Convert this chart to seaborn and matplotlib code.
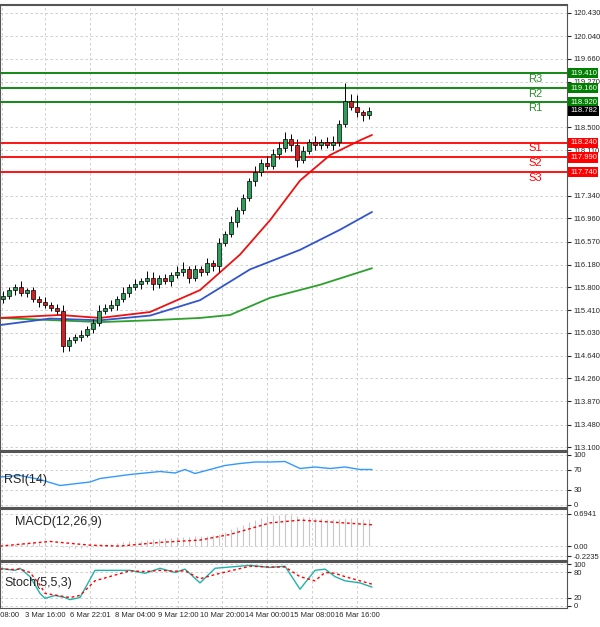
import numpy as np
import pandas as pd
import seaborn as sns
import matplotlib.pyplot as plt

# candle closes (open = previous close)
closes = [115.65, 115.75, 115.80, 115.70, 115.75, 115.60, 115.55, 115.50, 115.45, 115.40,
          114.80, 114.90, 114.95, 115.00, 115.10, 115.20, 115.40, 115.45, 115.50, 115.60,
          115.70, 115.80, 115.85, 115.90, 115.95, 115.85, 115.95, 115.90, 116.00, 116.05,
          116.10, 115.95, 116.10, 116.05, 116.20, 116.15, 116.55, 116.70, 116.90, 117.10,
          117.30, 117.60, 117.75, 117.90, 117.85, 118.05, 118.15, 118.30, 118.20, 117.95,
          118.10, 118.25, 118.20, 118.25, 118.20, 118.25, 118.55, 118.95, 118.85, 118.75,
          118.70, 118.782]
first_open = 115.60
upper_wick = [0.08, 0.05, 0.06, 0.10, 0.04, 0.06, 0.05, 0.08, 0.05, 0.06,
              0.10, 0.05, 0.06, 0.08, 0.05, 0.06, 0.10, 0.06, 0.08, 0.05,
              0.10, 0.06, 0.08, 0.05, 0.12, 0.10, 0.06, 0.08, 0.05, 0.10,
              0.12, 0.06, 0.08, 0.05, 0.10, 0.06, 0.08, 0.05, 0.10, 0.06,
              0.08, 0.05, 0.10, 0.06, 0.12, 0.08, 0.10, 0.12, 0.08, 0.10,
              0.08, 0.05, 0.10, 0.06, 0.08, 0.10, 0.08, 0.30, 0.12, 0.20,
              0.05, 0.06]
lower_wick = [0.06, 0.05, 0.08, 0.05, 0.06, 0.05, 0.08, 0.05, 0.06, 0.05,
              0.10, 0.08, 0.05, 0.06, 0.05, 0.08, 0.05, 0.06, 0.05, 0.08,
              0.05, 0.06, 0.05, 0.08, 0.05, 0.10, 0.06, 0.05, 0.08, 0.05,
              0.06, 0.08, 0.05, 0.06, 0.05, 0.08, 0.10, 0.06, 0.05, 0.08,
              0.06, 0.05, 0.10, 0.08, 0.06, 0.05, 0.08, 0.06, 0.10, 0.12,
              0.06, 0.05, 0.08, 0.06, 0.05, 0.08, 0.06, 0.05, 0.06, 0.08,
              0.10, 0.06]

# moving averages sampled at pixel positions
ma_px = [0, 60, 100, 150, 200, 240, 270, 300, 330, 360, 372]
ma_red = [115.28, 115.33, 115.28, 115.38, 115.75, 116.35, 116.93, 117.60, 118.03, 118.28, 118.37]
mb_px = [0, 50, 100, 150, 200, 250, 300, 340, 372]
ma_blue = [115.16, 115.27, 115.24, 115.32, 115.58, 116.10, 116.43, 116.77, 117.07]
mg_px = [0, 100, 150, 200, 230, 270, 320, 372]
ma_green = [115.28, 115.21, 115.24, 115.28, 115.33, 115.62, 115.84, 116.12]

levels = {"R3": 119.41, "R2": 119.16, "R1": 118.92, "S1": 118.24, "S2": 117.99, "S3": 117.74}
price_ticks = [120.430, 120.040, 119.660, 119.270, 118.500, 118.110, 117.340, 116.960, 116.570,
               116.180, 115.800, 115.410, 115.030, 114.640, 114.260, 113.870, 113.480, 113.100]

rsi_px = [0, 20, 40, 60, 90, 100, 130, 160, 175, 185, 195, 210, 225, 240, 255, 270, 285, 300, 315, 330, 345, 360, 372]
rsi = [55, 58, 50, 38, 45, 52, 60, 66, 63, 70, 62, 70, 78, 82, 85, 85, 86, 72, 75, 72, 75, 70, 70]

macd = [0.02, 0.03, 0.05, 0.06, 0.07, 0.08, 0.07, 0.06, 0.05, 0.03,
        -0.02, -0.04, -0.05, -0.04, -0.03, -0.01, 0.01, 0.03, 0.05, 0.06,
        0.08, 0.10, 0.11, 0.12, 0.14, 0.15, 0.16, 0.17, 0.18, 0.19,
        0.20, 0.20, 0.21, 0.21, 0.22, 0.23, 0.27, 0.31, 0.36, 0.41,
        0.46, 0.52, 0.57, 0.61, 0.64, 0.66, 0.68, 0.69, 0.68, 0.65,
        0.63, 0.62, 0.61, 0.60, 0.59, 0.58, 0.59, 0.61, 0.61, 0.60,
        0.59, 0.59]
sig_px = [0, 50, 90, 120, 160, 200, 230, 270, 300, 330, 372]
macd_sig = [0.0, 0.10, 0.02, 0.0, 0.08, 0.13, 0.25, 0.50, 0.56, 0.52, 0.46]

st_px = [0, 15, 20, 30, 40, 45, 55, 65, 70, 80, 95, 130, 145, 160, 175, 185, 200, 215, 250, 270, 285, 300, 315, 325, 335, 345, 360, 372]
st_main = [90, 85, 90, 70, 30, 18, 25, 20, 15, 20, 85, 85, 78, 90, 80, 88, 55, 90, 97, 92, 95, 40, 85, 88, 70, 60, 55, 45]
st_sig = [88, 87, 88, 80, 50, 30, 26, 22, 20, 25, 60, 84, 82, 85, 83, 84, 65, 75, 95, 93, 93, 70, 60, 80, 78, 70, 60, 52]

date_labels = ["Mar 08:00", "3 Mar 16:00", "6 Mar 22:01", "8 Mar 04:00", "9 Mar 12:00",
               "10 Mar 20:00", "14 Mar 00:00", "15 Mar 08:00", "16 Mar 16:00"]
date_px = [2, 45, 90, 135, 178, 222, 267, 312, 357]

CW = 6.0  # pixels per candle
GREEN = "#008000"
RED = "#ff0000"

sns.set_style("white")
plt.rcParams["font.family"] = "Liberation Sans"
fig = plt.figure(figsize=(6, 6.27), dpi=100)
H = 627.0
def rect(top, bot):
    return [0.0, 1 - bot / H, 567 / 600, (bot - top) / H]
ax = fig.add_axes(rect(5, 450))
ax_rsi = fig.add_axes(rect(452, 507))
ax_macd = fig.add_axes(rect(509, 560))
ax_st = fig.add_axes(rect(562, 608))
axes = [ax, ax_rsi, ax_macd, ax_st]

for a in axes:
    a.set_xlim(0, 567)
    a.yaxis.tick_right()
    a.tick_params(axis="y", labelsize=5.5, length=3, pad=1.5)
    a.tick_params(axis="x", length=0, pad=3)
    a.set_xticks(date_px)
    a.grid(True, color="#c8c8c8", linestyle=(0, (3, 3)), linewidth=0.6)
    for s in a.spines.values():
        s.set_color("#555555")
        s.set_linewidth(0.8)
    a.spines["top"].set_linewidth(1.5)
    if a is not ax_st:
        a.set_xticklabels([])
ax_st.set_xticklabels(date_labels, fontsize=5.5)

# candles
opens = [first_open] + closes[:-1]
cdf = pd.DataFrame({"x": [i * CW + 3 for i in range(len(closes))], "open": opens, "close": closes})
cdf["high"] = cdf[["open", "close"]].max(axis=1) + upper_wick
cdf["low"] = cdf[["open", "close"]].min(axis=1) - lower_wick
for _, r in cdf.iterrows():
    up = r.close >= r.open
    ax.vlines(r.x, r.low, r.high, color="black", linewidth=0.7, zorder=3)
    ax.bar(r.x, max(abs(r.close - r.open), 0.015), bottom=min(r.open, r.close), width=4,
           color="#2e9d5a" if up else "#d42020", edgecolor="black", linewidth=0.5, zorder=4)

sns.lineplot(x=mg_px, y=ma_green, ax=ax, color="#2ca02c", linewidth=1.3)
sns.lineplot(x=mb_px, y=ma_blue, ax=ax, color="#3355cc", linewidth=1.3)
sns.lineplot(x=ma_px, y=ma_red, ax=ax, color="#ee1111", linewidth=1.3)

ax.set_ylim(113.05, 120.565)
ax.set_yticks(price_ticks)
ax.set_yticklabels([f"{t:.3f}" for t in price_ticks])
for name, lv in levels.items():
    c = GREEN if name.startswith("R") else RED
    ax.axhline(lv, color=c, linewidth=1.3, zorder=2)
    ty = lv - 0.09 if name.startswith("R") else lv - 0.09
    ax.text(535, ty, name, color="#2e8b2e" if c == GREEN else RED,
            fontsize=8, ha="center", va="center")
    ax.text(570, lv, f"{lv:.3f}", fontsize=5.5, color="white", va="center", ha="left", clip_on=False,
            bbox=dict(boxstyle="square,pad=0.2", fc=c, ec="none"), zorder=10)
ax.text(570, 118.782, "118.782", fontsize=5.5, color="white", va="center", ha="left", clip_on=False,
        bbox=dict(boxstyle="square,pad=0.2", fc="black", ec="none"), zorder=10)

# RSI
sns.lineplot(x=rsi_px, y=rsi, ax=ax_rsi, color="#3399ff", linewidth=1)
ax_rsi.set_ylim(-5, 105)
ax_rsi.set_yticks([0, 30, 70, 100])
ax_rsi.text(4, 48, "RSI(14)", fontsize=9, va="center")

# MACD
ax_macd.vlines(cdf["x"], 0, macd, color="#c8c8c8", linewidth=0.8)
sns.lineplot(x=sig_px, y=macd_sig, ax=ax_macd, color=RED, linewidth=1, linestyle=(0, (2, 2)))
ax_macd.set_xlim(0, 567)
ax_macd.set_ylim(-0.3, 0.8)
ax_macd.set_yticks([0.6941, 0.0, -0.2235])
ax_macd.set_yticklabels(["0.6941", "0.00", "-0.2235"])
ax_macd.text(15, 0.52, "MACD(12,26,9)", fontsize=9, va="center")

# Stochastic
sns.lineplot(x=st_px, y=st_main, ax=ax_st, color="#20b2aa", linewidth=1)
sns.lineplot(x=st_px, y=st_sig, ax=ax_st, color=RED, linewidth=1, linestyle=(0, (2, 2)))
ax_st.set_ylim(-5, 105)
ax_st.set_yticks([0, 20, 80, 100])
ax_st.text(4, 55, "Stoch(5,5,3)", fontsize=9, va="center")

for a in axes:
    a.set_xlabel("")
    a.set_ylabel("")

fig.savefig("out.png", dpi=100)
